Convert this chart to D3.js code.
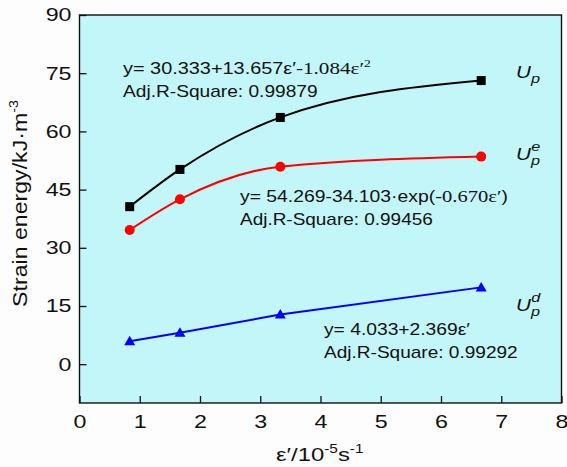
<!DOCTYPE html>
<html>
<head>
<meta charset="utf-8">
<script src="https://cdn.jsdelivr.net/npm/d3@7"></script>
<style>
  body { margin: 0; background: #fdfdfd; }
  text { font-family: "Liberation Sans", Arial, sans-serif; fill: #111; }
</style>
</head>
<body>
<div id="chart"></div>
<script>
// strain rate (10^-5 s^-1)
var rates = [0.833, 1.667, 3.333, 6.667];
// strain energy values (kJ/m3)
var upTotal = [40.6, 50.2, 63.6, 73.1];
var upElastic = [34.6, 42.5, 50.9, 53.5];
var upDissip = [5.9, 8.1, 12.8, 19.8];
var xTicks = [0, 1, 2, 3, 4, 5, 6, 7, 8];
var yTicks = [0, 15, 30, 45, 60, 75, 90];

var width = 567, height = 467;
var margin = {left: 79.5, right: 5.5, top: 15, bottom: 64};
var stretch = 1.25; // the text in the picture is drawn wide

var svg = d3.select('#chart').append('svg')
    .attr('width', width)
    .attr('height', height);

var x = d3.scaleLinear().domain([0, 8]).range([margin.left, width - margin.right]);
var y = d3.scaleLinear().domain([-10, 90]).range([height - margin.bottom, margin.top]);

// squeeze or widen a text element so it is `target` px wide, anchored at its left edge
function fitWidth(t, target) {
    var bb = t.node().getBBox();
    var s = target / bb.width;
    t.attr('transform', 'translate(' + bb.x + ',0) scale(' + s + ',1) translate(' + (-bb.x) + ',0)');
}

// plot background
svg.append('rect')
    .attr('x', x(0)).attr('y', y(90))
    .attr('width', x(8) - x(0)).attr('height', y(-10) - y(90))
    .attr('fill', '#c3f6f9');

// axes, ticks pointing inward
var xAxis = svg.append('g')
    .attr('transform', 'translate(0,' + y(-10) + ')')
    .call(d3.axisBottom(x).tickValues(xTicks).tickSizeInner(-7).tickSizeOuter(0).tickPadding(12));
var yAxis = svg.append('g')
    .attr('transform', 'translate(' + x(0) + ',0)')
    .call(d3.axisLeft(y).tickValues(yTicks).tickSizeInner(-7).tickSizeOuter(0).tickPadding(8));

[xAxis, yAxis].forEach(function(a) {
    a.select('.domain').remove();
    a.selectAll('.tick line').attr('stroke', '#111').attr('stroke-width', 1.3);
    a.selectAll('.tick text')
        .style('font-family', '"Liberation Sans", Arial, sans-serif')
        .style('font-size', '18.6px')
        .attr('fill', '#111')
        .attr('transform', 'scale(' + stretch + ',1)');
});
yAxis.selectAll('.tick text').attr('x', -8 / stretch);

// frame
svg.append('rect')
    .attr('x', x(0)).attr('y', y(90))
    .attr('width', x(8) - x(0)).attr('height', y(-10) - y(90))
    .attr('fill', 'none')
    .attr('stroke', '#111')
    .attr('stroke-width', 1.4);

function series(vals, colour, curve) {
    var pts = rates.map(function(r, i) { return [r, vals[i]]; });
    var line = d3.line()
        .x(function(d) { return x(d[0]); })
        .y(function(d) { return y(d[1]); })
        .curve(curve);
    svg.append('path')
        .attr('d', line(pts))
        .attr('fill', 'none')
        .attr('stroke', colour)
        .attr('stroke-width', 2);
    return pts;
}

var blackPts = series(upTotal, '#000', d3.curveMonotoneX);
var redPts = series(upElastic, '#ff0000', d3.curveMonotoneX);
var bluePts = series(upDissip, '#0000ff', d3.curveLinear);

svg.selectAll('.sq').data(blackPts).enter().append('rect')
    .attr('x', function(d) { return x(d[0]) - 4.5; })
    .attr('y', function(d) { return y(d[1]) - 4.5; })
    .attr('width', 9).attr('height', 9)
    .attr('fill', '#000');

svg.selectAll('.ci').data(redPts).enter().append('circle')
    .attr('cx', function(d) { return x(d[0]); })
    .attr('cy', function(d) { return y(d[1]); })
    .attr('r', 5)
    .attr('fill', '#ff0000');

svg.selectAll('.tr').data(bluePts).enter().append('path')
    .attr('d', function(d) {
        var p = d3.path(), cx = x(d[0]), cy = y(d[1]);
        p.moveTo(cx, cy - 5.5);
        p.lineTo(cx + 5.5, cy + 4);
        p.lineTo(cx - 5.5, cy + 4);
        p.closePath();
        return p.toString();
    })
    .attr('fill', '#0000ff');

// fit equations
function eq(xp, yp, parts, w1, r2, w2) {
    var t = svg.append('text')
        .attr('x', xp).attr('y', yp)
        .style('font-size', '16px');
    parts.forEach(function(p) {
        var s = t.append('tspan').text(p.t);
        if (p.serif) s.style('font-family', '"Liberation Serif", "Times New Roman", serif').style('font-size', '17px');
        if (p.sup) s.attr('dy', -7).style('font-size', '11px');
    });
    fitWidth(t, w1);
    var a = svg.append('text')
        .attr('x', xp).attr('y', yp + 23)
        .style('font-size', '16px')
        .text('Adj.R-Square: ' + r2);
    fitWidth(a, w2);
}

eq(123, 74, [
    {t: 'y= 30.333+13.657ε\u2032'},
    {t: '-1.084ε\u2032', serif: true},
    {t: '2', sup: true, serif: true}
], 248, '0.99879', 195);
eq(240, 202, [
    {t: 'y= 54.269-34.103·exp('},
    {t: '-0.670ε\u2032', serif: true},
    {t: ')'}
], 268, '0.99456', 193);
eq(324, 335, [
    {t: 'y= 4.033+2.369ε\u2032'}
], 146, '0.99292', 194);

// series labels
function ulabel(xp, yp, sup) {
    var t = svg.append('text')
        .attr('x', xp).attr('y', yp)
        .style('font-size', '16.5px')
        .style('font-style', 'italic');
    t.append('tspan').text('U');
    t.append('tspan').text('p').style('font-size', '13px').attr('dy', 5);
    if (sup) {
        t.append('tspan').text(sup).style('font-size', '13px')
            .attr('dx', -7).attr('dy', -14);
    }
    t.attr('transform', 'translate(' + xp + ',0) scale(' + stretch + ',1) translate(' + (-xp) + ',0)');
}
ulabel(516, 78, null);
ulabel(516, 160, 'e');
ulabel(516, 311, 'd');

// axis titles
var yt = svg.append('text')
    .attr('transform', 'translate(27,' + 203.5 + ') rotate(-90)')
    .attr('text-anchor', 'middle')
    .style('font-size', '21px');
yt.append('tspan').text('Strain energy/kJ·m');
yt.append('tspan').text('-3').style('font-size', '13px').attr('dy', -9);
var ytLen = yt.node().getBBox().width;
yt.attr('transform', 'translate(27,' + 203.5 + ') rotate(-90) scale(' + (207 / ytLen) + ',1)');

var xt = svg.append('text')
    .attr('x', 276).attr('y', 461)
    .style('font-size', '18.6px');
xt.append('tspan').text('ε\u2032/10');
xt.append('tspan').text('-5').style('font-size', '12px').attr('dy', -8);
xt.append('tspan').text('s').attr('dy', 8);
xt.append('tspan').text('-1').style('font-size', '12px').attr('dy', -8);
fitWidth(xt, 88);
</script>
</body>
</html>
